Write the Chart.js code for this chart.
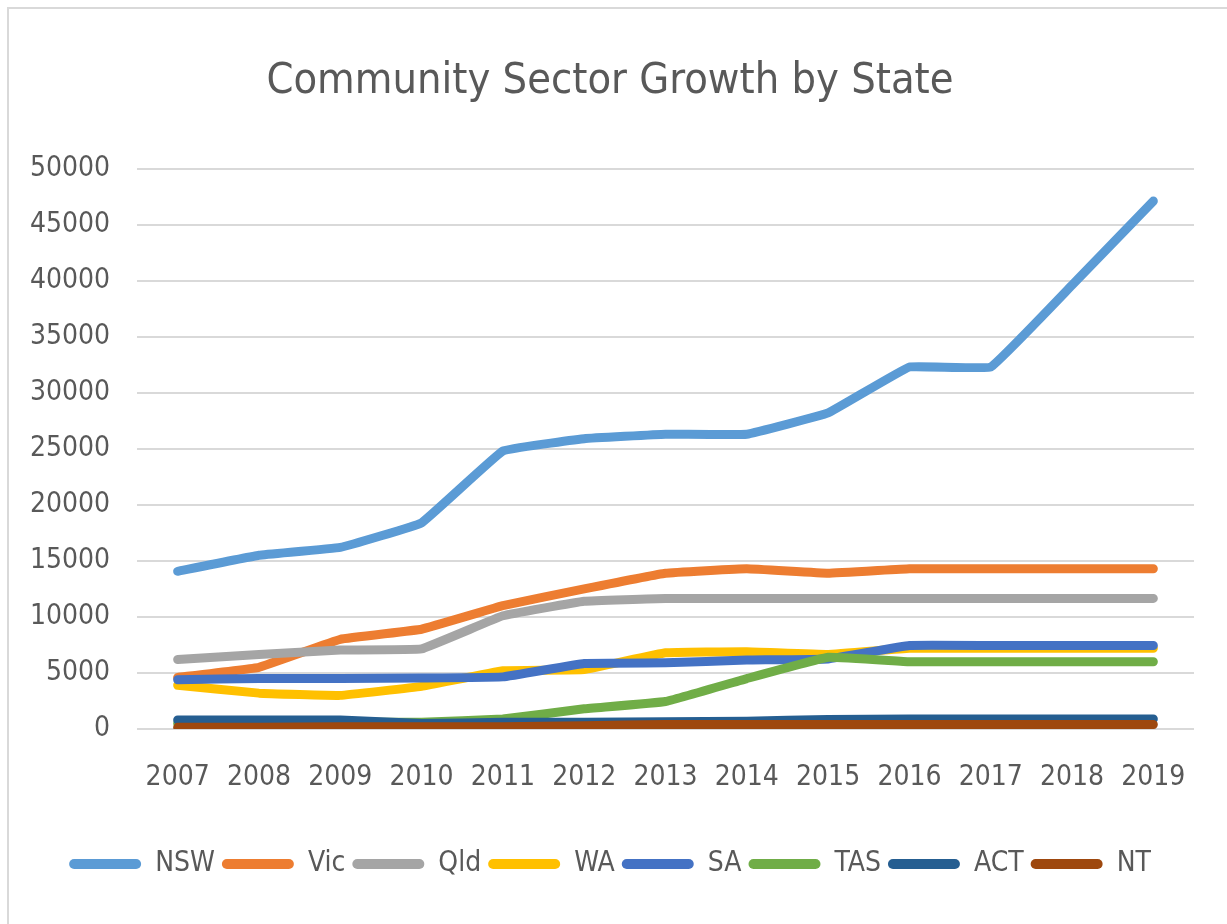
<!DOCTYPE html>
<html>
<head>
<meta charset="utf-8">
<title>Community Sector Growth by State</title>
<script src="https://cdn.jsdelivr.net/npm/chart.js@4.4.1/dist/chart.umd.min.js"></script>
<style>
  html, body { margin: 0; padding: 0; background: #fff; }
  body { width: 1227px; height: 924px; overflow: hidden; position: relative; }
  #frame {
    position: absolute; left: 7px; top: 7px; width: 1240px; height: 940px;
    border: 2px solid #d9d9d9; box-sizing: border-box;
  }
  #wrap { position: absolute; left: 0; top: 0; width: 1227px; height: 924px; }
</style>
</head>
<body>
<div id="frame"></div>
<div id="wrap"><canvas id="chartStates"></canvas></div>
<script>
// Datos
const years = ['2007', '2008', '2009', '2010', '2011', '2012', '2013', '2014', '2015', '2016', '2017', '2018', '2019'];
const nsw = [14070, 15500, 16200, 18400, 24800, 25900, 26300, 26300, 28200, 32300, 32300, 39600, 47100];
const vic = [4600, 5500, 8000, 8900, 11000, 12500, 13900, 14300, 13900, 14300, 14300, 14300, 14300];
const qld = [6200, 6650, 7050, 7150, 10100, 11400, 11650, 11650, 11650, 11650, 11650, 11650, 11650];
const wa  = [3900, 3200, 3000, 3800, 5200, 5300, 6800, 6900, 6650, 7200, 7200, 7200, 7200];
const sa  = [4400, 4500, 4500, 4550, 4650, 5850, 5900, 6150, 6250, 7450, 7450, 7450, 7450];
const tas = [500, 500, 600, 600, 900, 1800, 2450, 4500, 6400, 6000, 6000, 6000, 6000];
const act = [800, 800, 800, 500, 600, 600, 650, 700, 850, 900, 900, 900, 900];
const nt  = [150, 150, 200, 200, 200, 300, 400, 400, 400, 400, 400, 400, 400];
const yTicks = [0, 5000, 10000, 15000, 20000, 25000, 30000, 35000, 40000, 45000, 50000];

const FONT = "'Liberation Sans Narrow', 'DejaVu Sans Condensed', 'Open Sans', sans-serif";
Chart.defaults.font.family = FONT;
Chart.defaults.color = '#595959';

let n = 0;
function serie(label, data, color) {
    n++;
    return {
        label: label,
        data: data,
        borderColor: color,
        backgroundColor: color,
        borderWidth: 9,
        pointRadius: 0,
        pointHoverRadius: 0,
        tension: 0.07,
        borderCapStyle: 'round',
        borderJoinStyle: 'round',
        order: 20 - n   // las series posteriores quedan encima (como Excel)
    };
}

const ctx = document.getElementById('chartStates');
new Chart(ctx, {
    type: 'line',
    data: {
        labels: years,
        datasets: [
            serie('NSW', nsw, '#5B9BD5'),
            serie('Vic', vic, '#ED7D31'),
            serie('Qld', qld, '#A5A5A5'),
            serie('WA', wa, '#FFC000'),
            serie('SA', sa, '#4472C4'),
            serie('TAS', tas, '#70AD47'),
            serie('ACT', act, '#255E91'),
            serie('NT', nt, '#9E480E')
        ]
    },
    options: {
        responsive: true,
        maintainAspectRatio: false,
        animation: false,
        layout: {
            padding: { left: 26, right: 33, top: 0, bottom: 36 }
        },
        scales: {
            x: {
                offset: true,
                grid: { display: false, offset: true },
                border: { display: false },
                ticks: {
                    font: { size: 28 },
                    padding: 24,
                    color: '#595959',
                    maxRotation: 0,
                    autoSkip: false
                },
                afterFit: function(scale) { scale.height = 114; }
            },
            y: {
                min: 0,
                max: 50000,
                afterBuildTicks: function(scale) {
                    scale.ticks = yTicks.map(v => ({ value: v }));
                },
                grid: { color: '#D9D9D9', lineWidth: 2, drawTicks: false },
                border: { display: false },
                ticks: {
                    font: { size: 28 },
                    padding: 27,
                    color: '#595959',
                    callback: function(value) { return String(value); }
                },
                afterFit: function(scale) { scale.width = 111; }
            }
        },
        plugins: {
            title: {
                display: true,
                text: 'Community Sector Growth by State',
                color: '#595959',
                font: { size: 43, weight: 'normal' },
                padding: { top: 56, bottom: 61 }
            },
            legend: {
                position: 'bottom',
                labels: {
                    boxWidth: 72,
                    boxHeight: 10,
                    useBorderRadius: true,
                    borderRadius: 5,
                    padding: 7,
                    color: '#595959',
                    font: { size: 28 },
                    sort: function(a, b) { return a.datasetIndex - b.datasetIndex; },
                    generateLabels: function(chart) {
                        const items = Chart.defaults.plugins.legend.labels.generateLabels(chart);
                        items.forEach(it => { it.lineWidth = 0; });
                        return items;
                    }
                }
            },
            tooltip: { enabled: false }
        }
    }
});
</script>
</body>
</html>
